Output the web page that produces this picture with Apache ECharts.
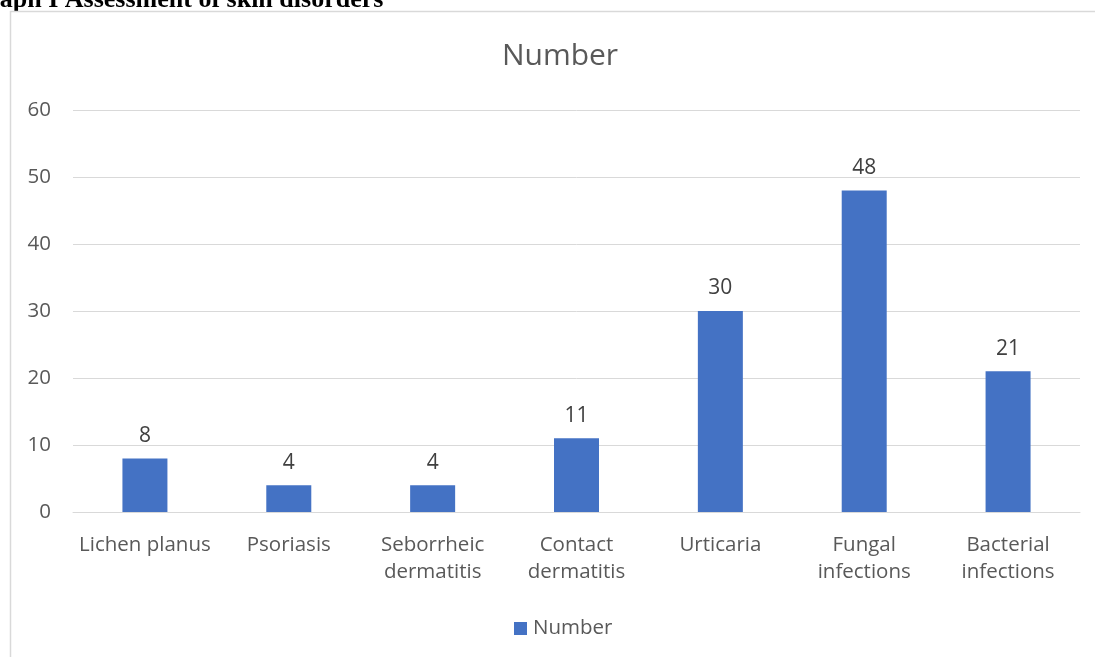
<!DOCTYPE html>
<html>
<head>
<meta charset="utf-8">
<script src="https://cdn.jsdelivr.net/npm/echarts@6/dist/echarts.min.js"></script>
<style>
  html, body { margin: 0; padding: 0; background: #ffffff; }
  #chart { width: 1095px; height: 657px; }
</style>
</head>
<body>
<div id="chart"></div>
<script>
// Skin disorder counts
const categories = ['Lichen planus', 'Psoriasis', 'Seborrheic\ndermatitis', 'Contact\ndermatitis', 'Urticaria', 'Fungal\ninfections', 'Bacterial\ninfections'];
const numberValues = [8, 4, 4, 11, 30, 48, 21];
const seriesName = 'Number';
const captionText = 'Graph I Assessment of skin disorders';

const textFont = '"Open Sans", "Noto Sans", sans-serif';
const textColor = '#595959';
const barColor = '#4472c4';

const chart = echarts.init(document.getElementById('chart'), null, { renderer: 'canvas' });

chart.setOption({
  animation: false,
  backgroundColor: '#ffffff',
  legend: {
    top: 613,
    left: 509,
    itemWidth: 13,
    itemHeight: 13,
    itemGap: 6,
    icon: 'rect',
    textStyle: { fontFamily: textFont, fontSize: 20.5, color: textColor, padding: [0, 0, 0, 1] },
    data: [seriesName]
  },
  graphic: [
    {
      // caption above the chart frame, partly outside the page edge
      type: 'text',
      x: -32,
      y: -13,
      style: {
        text: captionText,
        font: 'bold 26px "Liberation Serif", "DejaVu Serif", serif',
        fill: '#000000'
      }
    },
    {
      // chart title
      type: 'text',
      x: 560,
      y: 56,
      style: {
        text: seriesName,
        align: 'center',
        verticalAlign: 'middle',
        font: '30px "Open Sans", "Noto Sans", sans-serif',
        fill: textColor
      }
    },
    {
      // chart frame
      type: 'polyline',
      shape: { points: [[10.5, 657], [10.5, 11.5], [1095, 11.5]] },
      style: { stroke: '#d9d9d9', lineWidth: 1.5, fill: null }
    }
  ],
  grid: { left: 73, right: 15, top: 110, bottom: 145, containLabel: false },
  xAxis: {
    type: 'category',
    data: categories,
    axisLine: { show: true, lineStyle: { color: '#d9d9d9', width: 1 } },
    axisTick: { show: false },
    axisLabel: {
      fontFamily: textFont, fontSize: 20.5, color: textColor,
      margin: 20, lineHeight: 27, interval: 0
    }
  },
  yAxis: {
    type: 'value',
    min: 0,
    max: 60,
    interval: 10,
    axisLine: { show: false },
    axisTick: { show: false },
    axisLabel: { fontFamily: textFont, fontSize: 20.5, color: textColor, margin: 22 },
    splitLine: { lineStyle: { color: '#d9d9d9', width: 1 } }
  },
  series: [{
    name: seriesName,
    type: 'bar',
    data: numberValues,
    barWidth: 45,
    itemStyle: { color: barColor },
    label: {
      show: true,
      position: 'top',
      distance: 12,
      fontFamily: textFont,
      fontSize: 21,
      color: '#404040'
    }
  }]
});
</script>
</body>
</html>
